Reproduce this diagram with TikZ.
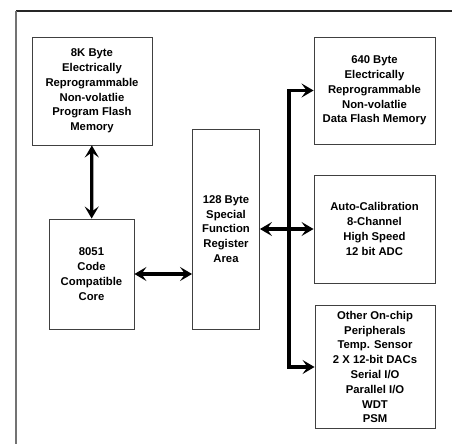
\documentclass[tikz,border=0pt]{standalone}
\usepackage{fontspec}
\setmainfont{Liberation Sans}
\usetikzlibrary{arrows.meta}
\begin{document}
\begin{tikzpicture}[x=1pt,y=-1pt,
  blk/.style={draw=black!75, line width=0.9pt, align=center, inner sep=0pt,
    font=\fontsize{11.3}{14.8}\selectfont\bfseries},
  bus/.style={line width=3.2pt, {Stealth[length=12pt,width=14pt,inset=5pt]}-{Stealth[length=12pt,width=14pt,inset=5pt]}}]
\useasboundingbox (0,0) rectangle (452,444);
\draw[black!85, line width=1.2pt] (16,11) -- (452,11);
\draw[black!55, line width=2pt] (16,11) -- (16,444);
\node[blk, minimum width=120pt, minimum height=108pt] (pf) at (92,91)
  {8K Byte\\Electrically\\Reprogrammable\\Non-volatlie\\Program Flash\\Memory};
\node[blk, minimum width=85pt, minimum height=110pt] (core) at (91.5,274)
  {8051\\Code\\Compatible\\Core};
\node[blk, minimum width=67pt, minimum height=200pt] (sfr) at (226,229)
  {128 Byte\\Special\\Function\\Register\\Area};
\node[blk, minimum width=121pt, minimum height=107pt] (df) at (374.5,90.5)
  {640 Byte\\Electrically\\Reprogrammable\\Non-volatlie\\Data Flash Memory};
\node[blk, minimum width=121pt, minimum height=108pt] (adc) at (374.5,229)
  {Auto-Calibration\\8-Channel\\High Speed\\12 bit ADC};
\node[blk, minimum width=120pt, minimum height=123pt] (oth) at (375,367)
  {Other On-chip\\Peripherals\\Temp. Sensor\\2 X 12-bit DACs\\Serial I/O\\Parallel I/O\\WDT\\PSM};
\coordinate (bx) at (289,0);
\draw[bus] (pf) -- (core);
\draw[bus] (core.east) -- (core.east -| sfr.west);
\draw[bus] (sfr.east |- adc.west) -- (adc.west);
\draw[bus, line join=miter] (df.west) -- (df.west -| bx) -- (oth.west -| bx) -- (oth.west);
\end{tikzpicture}
\end{document}
